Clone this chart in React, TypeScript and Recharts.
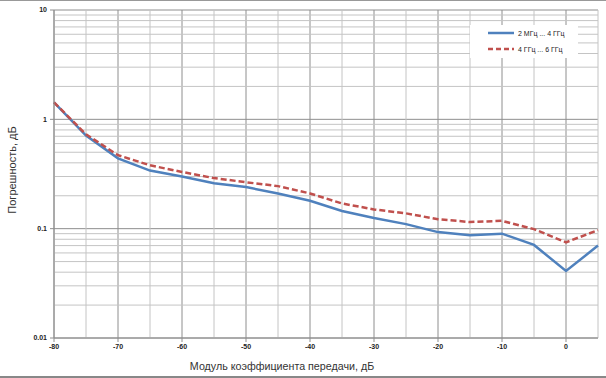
import { CartesianGrid, Line, LineChart, ReferenceLine, XAxis, YAxis } from "recharts"

const gain = [-80, -75, -70, -65, -60, -55, -50, -45, -40, -35, -30, -25, -20, -15, -10, -5, 0, 5]
const band1 = [1.43, 0.71, 0.44, 0.34, 0.3, 0.26, 0.24, 0.21, 0.18, 0.145, 0.125, 0.11, 0.093, 0.087, 0.09, 0.071, 0.041, 0.07]
const band2 = [1.43, 0.73, 0.47, 0.38, 0.33, 0.29, 0.266, 0.245, 0.21, 0.17, 0.15, 0.138, 0.122, 0.115, 0.118, 0.099, 0.075, 0.097]
const xTicks = [-80, -70, -60, -50, -40, -30, -20, -10, 0]
const xMinor = [-75, -65, -55, -45, -35, -25, -15, -5, 5]
const yTicks = [0.01, 0.1, 1, 10]
const yMinor = [
  0.02, 0.03, 0.04, 0.05, 0.06, 0.07, 0.08, 0.09,
  0.2, 0.3, 0.4, 0.5, 0.6, 0.7, 0.8, 0.9,
  2, 3, 4, 5, 6, 7, 8, 9,
]
const names = ["2 МГц ... 4 ГГц", "4 ГГц ... 6 ГГц"]

const data = gain.map((g, i) => ({ g, a: band1[i], b: band2[i] }))

const font = "'Liberation Sans', Arial, sans-serif"
const tickStyle = { fontSize: 7, fontWeight: 700, fill: "#222", fontFamily: font }

function LegendBox() {
  const items = [
    { name: names[0], color: "#4f81bd", dash: undefined },
    { name: names[1], color: "#c0504d", dash: "5 3" },
  ]
  return (
    <div style={{ position: "absolute", left: 470, top: 25, background: "#fff", width: 108, height: 33, fontFamily: font, fontSize: 7, color: "#222" }}>
      {items.map((it, i) => (
        <div key={i} style={{ display: "flex", alignItems: "center", height: 16, paddingLeft: 18 }}>
          <svg width={26} height={4} style={{ marginRight: 4 }}>
            <line x1={0} y1={2} x2={26} y2={2} stroke={it.color} strokeWidth={2.5} strokeDasharray={it.dash} />
          </svg>
          <span>{it.name}</span>
        </div>
      ))}
    </div>
  )
}

export default function App() {
  return (
    <div style={{ position: "absolute", left: 0, top: 0, width: 606, height: 378, background: "#fff" }}>
      <div style={{ position: "absolute", left: 0, top: 0, width: 606, height: 1, background: "#999" }} />
      <div style={{ position: "absolute", left: 0, top: 376, width: 606, height: 2, background: "#888" }} />
      <LineChart width={606} height={378} data={data} margin={{ top: 10, right: 8, bottom: 0, left: 0 }}>
        {yMinor.map((v) => (
          <ReferenceLine key={"h" + v} y={v} stroke="#c4c4c4" />
        ))}
        {xMinor.map((v) => (
          <ReferenceLine key={"v" + v} x={v} stroke="#c4c4c4" />
        ))}
        <CartesianGrid stroke="#8e8e8e" horizontalValues={yTicks} verticalValues={xTicks} />
        <XAxis
          dataKey="g"
          type="number"
          domain={[-80, 5]}
          ticks={xTicks}
          height={40}
          stroke="#8e8e8e"
          tick={tickStyle}
          tickSize={4}
          tickMargin={2}
          label={{ value: "Модуль коэффициента передачи, дБ", position: "insideBottom", offset: 8, dx: -44, style: { fontSize: 10.7, fill: "#333", fontFamily: font } }}
        />
        <YAxis
          scale="log"
          type="number"
          domain={[0.01, 10]}
          ticks={yTicks}
          allowDataOverflow
          width={54}
          stroke="#8e8e8e"
          tick={tickStyle}
          tickSize={4}
          tickMargin={3}
          tickFormatter={(v: number) => String(v)}
          label={{ value: "Погрешность, дБ", angle: -90, position: "insideLeft", offset: 12, dy: -4, style: { fontSize: 11, fill: "#333", fontFamily: font, textAnchor: "middle" } }}
        />
        <Line dataKey="a" name={names[0]} stroke="#4f81bd" strokeWidth={2.5} dot={false} isAnimationActive={false} />
        <Line dataKey="b" name={names[1]} stroke="#c0504d" strokeWidth={2.5} strokeDasharray="6 3" dot={false} isAnimationActive={false} />
      </LineChart>
      <LegendBox />
    </div>
  )
}
